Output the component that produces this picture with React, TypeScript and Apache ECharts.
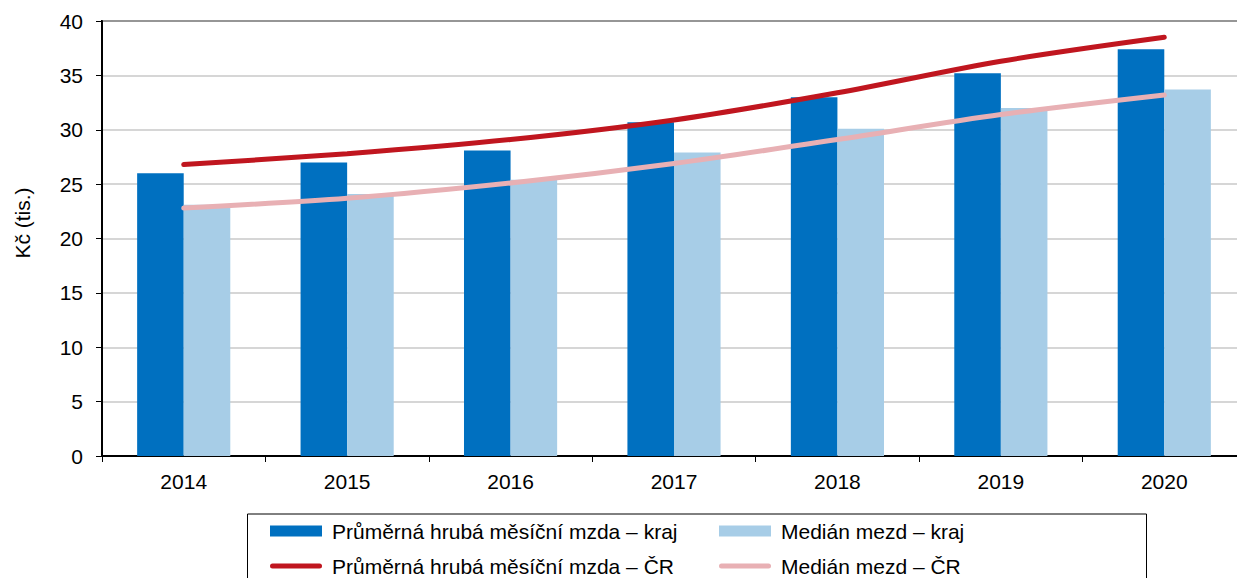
import React, { useEffect, useRef } from "react";
import * as echarts from "echarts";

const categories = ["2014", "2015", "2016", "2017", "2018", "2019", "2020"];
const avgRegion = [26.0, 27.0, 28.1, 30.7, 33.0, 35.2, 37.4];
const medianRegion = [23.1, 24.1, 25.4, 27.9, 30.1, 32.0, 33.7];
const avgCR = [26.8, 27.8, 29.1, 30.9, 33.4, 36.3, 38.5];
const medianCR = [22.8, 23.7, 25.1, 26.9, 29.1, 31.4, 33.2];

const N1 = "Průměrná hrubá měsíční mzda – kraj";
const N2 = "Medián mezd – kraj";
const N3 = "Průměrná hrubá měsíční mzda – ČR";
const N4 = "Medián mezd – ČR";

const FONT = "Liberation Sans, Arial, sans-serif";
const LINE_ICON =
  "path://M0,0 M52,11 M2.5,3 L49.5,3 A2.5,2.5 0 0 1 49.5,8 L2.5,8 A2.5,2.5 0 0 1 2.5,3 Z";

export default function App() {
  const ref = useRef<HTMLDivElement>(null);
  useEffect(() => {
    document.body.style.margin = "0";
    const chart = echarts.init(ref.current!, null, { renderer: "svg" });
    const legendCommon = {
      orient: "vertical",
      itemWidth: 52,
      itemHeight: 11,
      itemGap: 13,
      height: 120,
      textStyle: {
        fontFamily: FONT,
        fontSize: 21,
        color: "#000",
        lineHeight: 22,
        padding: [0, 0, 0, 5],
      },
      selectedMode: false,
    };
    chart.setOption({
      animation: false,
      textStyle: { fontFamily: FONT },
      grid: {
        left: 102,
        top: 21,
        width: 1144,
        bottom: 122,
        show: true,
        borderColor: "#000",
        borderWidth: 2,
        outerBoundsMode: "none",
        containLabel: false,
      },
      legend: [
        {
          ...legendCommon,
          left: 265,
          top: 515,
          data: [{ name: N1, icon: "rect" }, { name: N3, icon: LINE_ICON }],
        },
        {
          ...legendCommon,
          left: 714,
          top: 515,
          data: [{ name: N2, icon: "rect" }, { name: N4, icon: LINE_ICON }],
        },
      ],
      graphic: [
        {
          type: "rect",
          shape: { x: 247.5, y: 514, width: 899, height: 80 },
          style: { fill: "none", stroke: "#000", lineWidth: 1 },
          silent: true,
        },
        {
          type: "text",
          x: 22.5,
          y: 223,
          rotation: Math.PI / 2,
          style: {
            text: "Kč (tis.)",
            fontFamily: FONT,
            fontSize: 21,
            fill: "#000",
            align: "center",
            verticalAlign: "middle",
          },
        },
      ],
      xAxis: {
        type: "category",
        data: categories,
        axisLine: { lineStyle: { color: "#000", width: 2 } },
        axisTick: { show: true, length: 6, lineStyle: { color: "#000", width: 1 } },
        axisLabel: { fontSize: 21, color: "#000", margin: 15, fontFamily: FONT },
      },
      yAxis: {
        type: "value",
        min: 0,
        max: 40,
        interval: 5,
        axisLine: { show: true, lineStyle: { color: "#000", width: 2 } },
        axisTick: { show: true, length: 6, lineStyle: { color: "#000", width: 1 } },
        axisLabel: { fontSize: 21, color: "#000", margin: 19, fontFamily: FONT },
        splitLine: { lineStyle: { color: "#c8c8c8", width: 1.5 } },
      },
      series: [
        {
          name: N1,
          type: "bar",
          data: avgRegion,
          barGap: "0%",
          barCategoryGap: "43%",
          itemStyle: { color: "#0070c0" },
        },
        {
          name: N2,
          type: "bar",
          data: medianRegion,
          itemStyle: { color: "#a7cde7" },
        },
        {
          name: N3,
          type: "line",
          data: avgCR,
          smooth: 0.3,
          symbol: "none",
          lineStyle: { color: "#c0161f", width: 5, cap: "round" },
          itemStyle: { color: "#c0161f" },
          z: 3,
        },
        {
          name: N4,
          type: "line",
          data: medianCR,
          smooth: 0.3,
          symbol: "none",
          lineStyle: { color: "#e8b0b4", width: 5, cap: "round" },
          itemStyle: { color: "#e8b0b4" },
          z: 3,
        },
      ],
    });
    return () => chart.dispose();
  }, []);
  return (
    <div
      ref={ref}
      style={{ position: "fixed", left: 0, top: 0, width: 1237, height: 578, background: "#fff" }}
    />
  );
}
